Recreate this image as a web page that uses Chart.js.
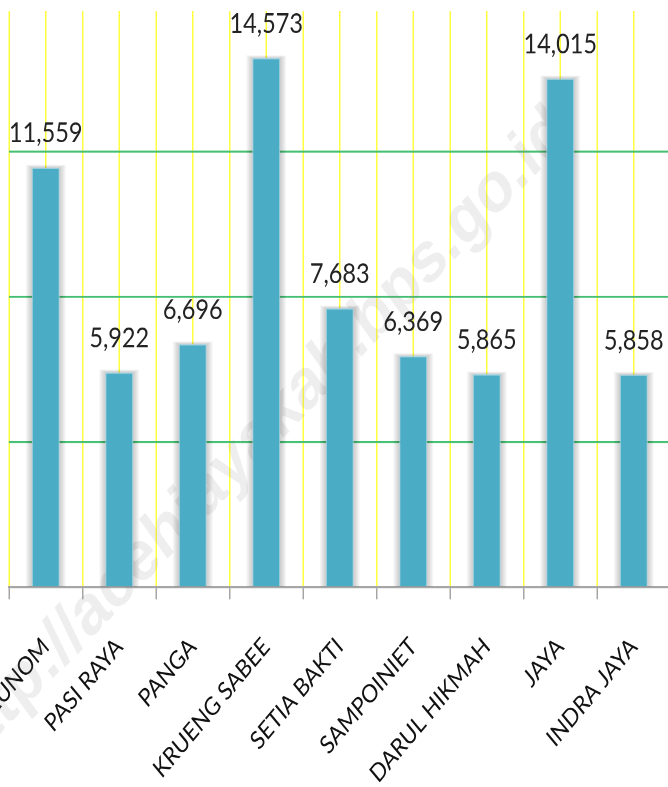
<!DOCTYPE html>
<html>
<head>
<meta charset="utf-8">
<script src="https://cdn.jsdelivr.net/npm/chart.js@4.4.1/dist/chart.umd.min.js"></script>
<style>
  html, body { margin: 0; padding: 0; background: #fff; overflow: hidden; width: 668px; height: 787px; }
  /* the source picture is stretched vertically, so draw flat and stretch */
  #wrap { width: 672px; height: 656px; transform: scaleY(1.1997); transform-origin: 0 0; }
</style>
</head>
<body>
<div id="wrap"><canvas id="chart" width="672" height="656"></canvas></div>
<script>
const districts = ['TEUNOM', 'PASI RAYA', 'PANGA', 'KRUENG SABEE', 'SETIA BAKTI', 'SAMPOINIET', 'DARUL HIKMAH', 'JAYA', 'INDRA JAYA'];
const population = [11559, 5922, 6696, 14573, 7683, 6369, 5865, 14015, 5858];
const yTicks = [0, 4000, 8000, 12000];
const yMax = 15870;

const barDecor = {
    id: 'barDecor',
    beforeDatasetsDraw(chart) {
        const ctx = chart.ctx;
        // watermark
        ctx.save();
        ctx.translate(572, 114);
        ctx.rotate(-41 * Math.PI / 180);
        ctx.font = 'bold 60px "Liberation Sans"';
        ctx.fillStyle = 'rgba(120,120,120,0.13)';
        ctx.textAlign = 'right';
        ctx.fillText('http://acehjayakab.bps.go.id', 0, 0);
        ctx.restore();
        // soft shadow around each bar
        const meta = chart.getDatasetMeta(0);
        ctx.save();
        ctx.fillStyle = 'rgba(0,0,0,0.035)';
        meta.data.forEach(bar => {
            for (let k = 1; k <= 6; k++) {
                ctx.fillRect(bar.x - bar.width / 2 - k, bar.y - k * 0.4, bar.width + 2 * k, bar.base - bar.y + k * 0.4);
            }
        });
        ctx.restore();
    },
    afterDatasetsDraw(chart) {
        const ctx = chart.ctx;
        const meta = chart.getDatasetMeta(0);
        ctx.save();
        ctx.font = '23.5px Lato';
        ctx.fillStyle = '#222';
        ctx.textAlign = 'center';
        ctx.textBaseline = 'alphabetic';
        meta.data.forEach((bar, i) => {
            ctx.fillText(population[i].toLocaleString('en-US'), bar.x, bar.y - 21);
        });
        ctx.restore();
    }
};

const ctx = document.getElementById('chart').getContext('2d');
const chart = new Chart(ctx, {
    type: 'bar',
    data: {
        labels: districts,
        datasets: [{
            data: population,
            backgroundColor: '#4bacc6',
            borderColor: '#a5d5e3',
            borderWidth: 1,
            barPercentage: 0.38,
            categoryPercentage: 1
        }]
    },
    options: {
        responsive: false,
        animation: false,
        devicePixelRatio: 2,
        layout: {
            padding: { left: 9, right: 1.5, top: 9.2, bottom: 0 }
        },
        plugins: {
            legend: { display: false },
            tooltip: { enabled: false }
        },
        scales: {
            x: {
                grid: {
                    offset: true,
                    color: '#ffff40',
                    lineWidth: 1.5,
                    tickColor: '#a6a6a6',
                    tickWidth: 1.5,
                    tickLength: 10
                },
                border: { color: '#a6a6a6', width: 1.7 },
                ticks: {
                    autoSkip: false,
                    maxRotation: 45,
                    minRotation: 45,
                    padding: 27,
                    color: '#111',
                    font: { family: 'Lato', size: 21 }
                },
                afterFit: s => {
                    s.height = 166.4;
                    s.paddingLeft = 0;
                    s.paddingRight = 0;
                }
            },
            x2: {
                type: 'category',
                position: 'top',
                offset: true,
                grid: { offset: false, color: '#ffff40', lineWidth: 1.5, drawTicks: false },
                border: { display: false },
                ticks: { display: false },
                afterFit: s => { s.height = 0; }
            },
            y: {
                min: 0,
                max: yMax,
                afterBuildTicks: s => { s.ticks = yTicks.map(v => ({ value: v })); },
                ticks: { display: false },
                border: { display: false },
                grid: {
                    color: c => c.tick && c.tick.value === 0 ? 'rgba(0,0,0,0)' : '#45bf72',
                    lineWidth: 1.7,
                    drawTicks: false
                },
                afterFit: s => { s.width = 0; }
            }
        }
    },
    plugins: [barDecor]
});
</script>
</body>
</html>
